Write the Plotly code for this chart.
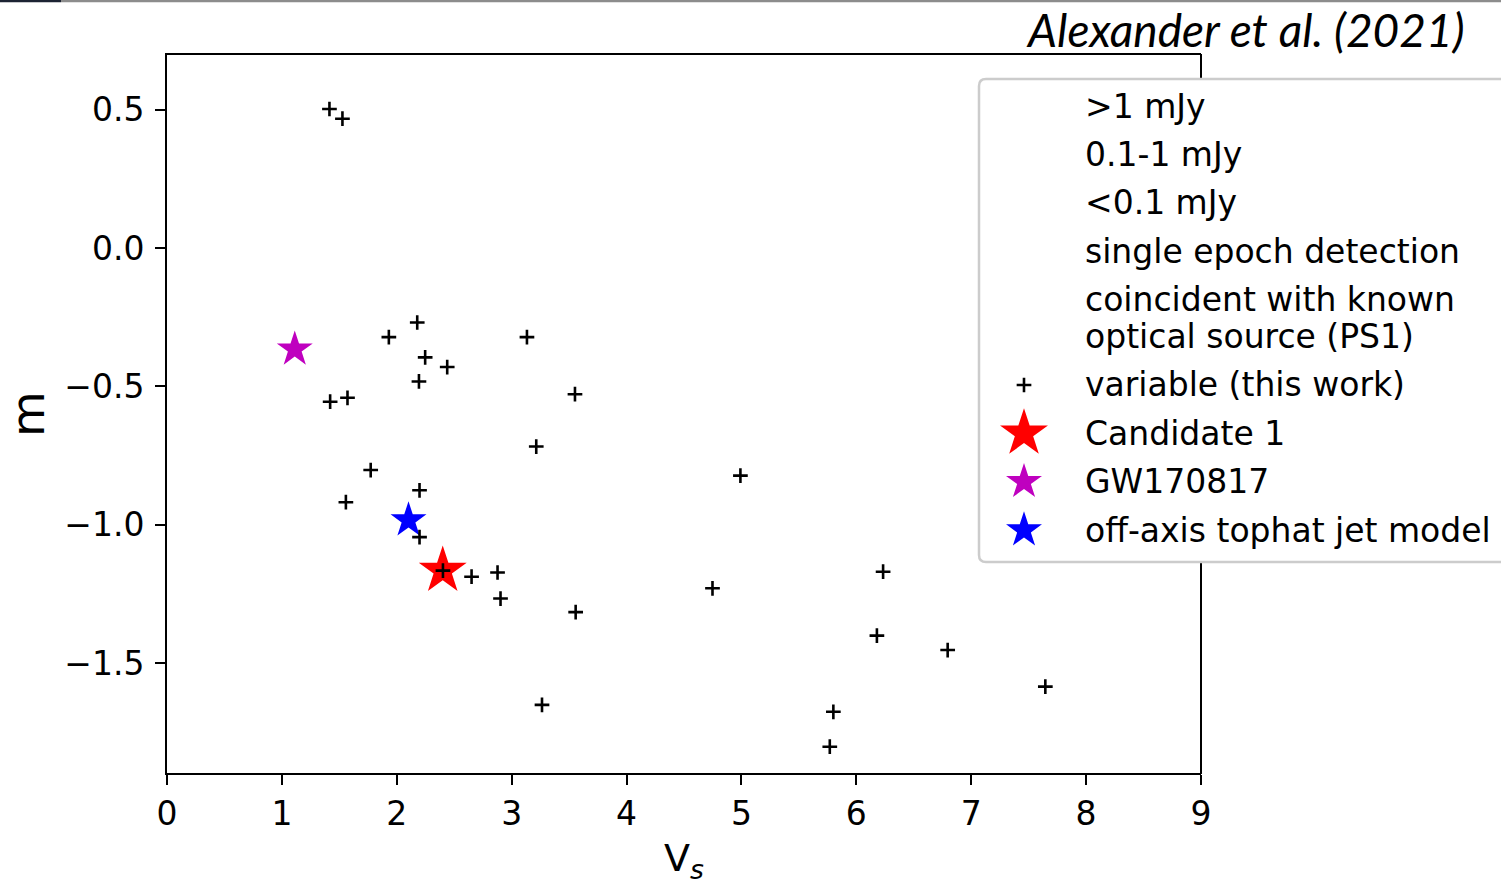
import plotly.graph_objects as go

# Variable radio sources: variability statistic V_s and modulation index m
vs_var = [1.414, 1.527, 2.178, 1.931, 3.133, 2.247, 2.439, 2.193, 3.551, 1.420,
          1.571, 3.214, 1.773, 4.991, 2.198, 1.557, 2.198, 2.402, 2.651, 2.877,
          2.903, 3.557, 4.748, 6.233, 6.179, 6.795, 7.645, 3.264, 5.800, 5.769]
m_var = [0.502, 0.467, -0.269, -0.322, -0.322, -0.395, -0.430, -0.482, -0.528, -0.555,
         -0.541, -0.717, -0.802, -0.822, -0.875, -0.918, -1.044, -1.165, -1.187, -1.172,
         -1.266, -1.315, -1.229, -1.169, -1.400, -1.452, -1.584, -1.650, -1.675, -1.801]

cand_vs, cand_m = [2.40], [-1.165]
gw_vs, gw_m = [1.112], [-0.366]
jet_vs, jet_m = [2.102], [-0.983]

x_tickvals = [0, 1, 2, 3, 4, 5, 6, 7, 8, 9]
y_tickvals = [0.5, 0.0, -0.5, -1.0, -1.5]
y_ticktext = ["0.5", "0.0", "\u22120.5", "\u22121.0", "\u22121.5"]

# key entries, one tuple of text lines per entry
legend_labels = [(">1 mJy",), ("0.1-1 mJy",), ("<0.1 mJy",), ("single epoch detection",),
                 ("coincident with known", "optical source (PS1)"),
                 ("variable (this work)",), ("Candidate 1",), ("GW170817",),
                 ("off-axis tophat jet model",)]

# ---- layout geometry (pixels) ----
W, H = 1501, 885
PL, PR, PT, PB = 167, 1201, 55, 773
FONT = "DejaVu Sans"


def fx(px):
    return (px - PL) / (PR - PL)


def fy(py):
    return (PB - py) / (PB - PT)


cross_style = dict(symbol="cross-thin", size=10.5, color="black",
                   line=dict(width=2.6, color="black"))
cand_style = dict(symbol="star", size=36, color="#ff0000", line=dict(width=0))
gw_style = dict(symbol="star", size=27, color="#bf00bf", line=dict(width=0))
jet_style = dict(symbol="star", size=27, color="#0000ff", line=dict(width=0))

fig = go.Figure()

fig.add_trace(go.Scatter(x=cand_vs, y=cand_m, mode="markers", marker=cand_style,
                         name="Candidate 1", showlegend=False))
fig.add_trace(go.Scatter(x=gw_vs, y=gw_m, mode="markers", marker=gw_style,
                         name="GW170817", showlegend=False))
fig.add_trace(go.Scatter(x=jet_vs, y=jet_m, mode="markers", marker=jet_style,
                         name="off-axis tophat jet model", showlegend=False))
fig.add_trace(go.Scatter(x=vs_var, y=m_var, mode="markers", marker=cross_style,
                         name="variable (this work)", showlegend=False))

# ---- key box: rows laid out top to bottom ----
row_pitch = 48.4
line_gap = 37.0
key_top = 81.8
key_sym_x = 1024
key_text_x = 1083

row_centers = []
y_cursor = key_top
for lines in legend_labels:
    h = row_pitch + (len(lines) - 1) * line_gap
    row_centers.append(y_cursor + h / 2)
    y_cursor += h

key_symbols = {5: cross_style, 6: cand_style, 7: gw_style, 8: jet_style}
for idx, style in key_symbols.items():
    fig.add_trace(go.Scatter(x=[key_sym_x], y=[row_centers[idx]], mode="markers",
                             marker=style, xaxis="x2", yaxis="y2",
                             showlegend=False, hoverinfo="skip"))

annotations = []
for lines, yc in zip(legend_labels, row_centers):
    first = yc - (len(lines) - 1) * line_gap / 2
    for k, txt in enumerate(lines):
        annotations.append(dict(text=txt, x=fx(key_text_x), y=fy(first + k * line_gap),
                                xref="paper", yref="paper", xanchor="left", yanchor="middle",
                                align="left", showarrow=False,
                                font=dict(family=FONT, size=33, color="black")))

annotations.append(dict(text="<i>Alexander et al. (2021)</i>", x=fx(1467), y=fy(29),
                        xref="paper", yref="paper", xanchor="right", yanchor="middle",
                        showarrow=False, font=dict(family="Lato", size=46, color="black")))

# rounded key frame
x0, x1 = fx(979), fx(1540)
y0, y1 = fy(562), fy(79)
rx, ry = 7 / (PR - PL), 7 / (PB - PT)
frame_path = (f"M {x0 + rx},{y1} L {x1 - rx},{y1} Q {x1},{y1} {x1},{y1 - ry} "
              f"L {x1},{y0 + ry} Q {x1},{y0} {x1 - rx},{y0} L {x0 + rx},{y0} "
              f"Q {x0},{y0} {x0},{y0 + ry} L {x0},{y1 - ry} Q {x0},{y1} {x0 + rx},{y1} Z")

shapes = [
    # right-hand frame edge of the axes, hidden behind the key box
    dict(type="line", x0=1, x1=1, y0=fy(PB + 1), y1=fy(PT - 1), xref="paper", yref="paper",
         layer="below", line=dict(color="black", width=2)),
    dict(type="path", path=frame_path, xref="paper", yref="paper", layer="below",
         fillcolor="white", line=dict(color="#cccccc", width=2.5)),
    dict(type="line", x0=fx(0), x1=fx(61), y0=fy(1), y1=fy(1), xref="paper", yref="paper",
         line=dict(color="#1c2333", width=2.5)),
    dict(type="line", x0=fx(61), x1=fx(W), y0=fy(1), y1=fy(1), xref="paper", yref="paper",
         line=dict(color="#8c8c8c", width=2.5)),
]

axis_common = dict(showline=True, linecolor="black", linewidth=2,
                   ticks="outside", ticklen=10, tickwidth=2, tickcolor="black",
                   showgrid=False, zeroline=False,
                   tickfont=dict(family=FONT, size=33, color="black"))

fig.update_layout(
    width=W, height=H,
    margin=dict(l=PL, r=W - PR, t=PT, b=H - PB, autoexpand=False),
    paper_bgcolor="white", plot_bgcolor="white",
    showlegend=False,
    xaxis=dict(range=[0, 9], tickvals=x_tickvals, mirror=True, **axis_common,
               title=dict(text="V<sub><i>s</i></sub>", standoff=14,
                          font=dict(family=FONT, size=38, color="black"))),
    yaxis=dict(range=[-1.896, 0.697], tickvals=y_tickvals, ticktext=y_ticktext,
               mirror=False, ticklabelstandoff=4, **axis_common,
               title=dict(text="m", standoff=20,
                          font=dict(family=FONT, size=47, color="black"))),
    xaxis2=dict(range=[PL, PR], overlaying="x", anchor="y2", visible=False),
    yaxis2=dict(range=[PB, PT], overlaying="y", anchor="x2", visible=False),
    annotations=annotations,
    shapes=shapes,
)

fig.write_html("out.html")
